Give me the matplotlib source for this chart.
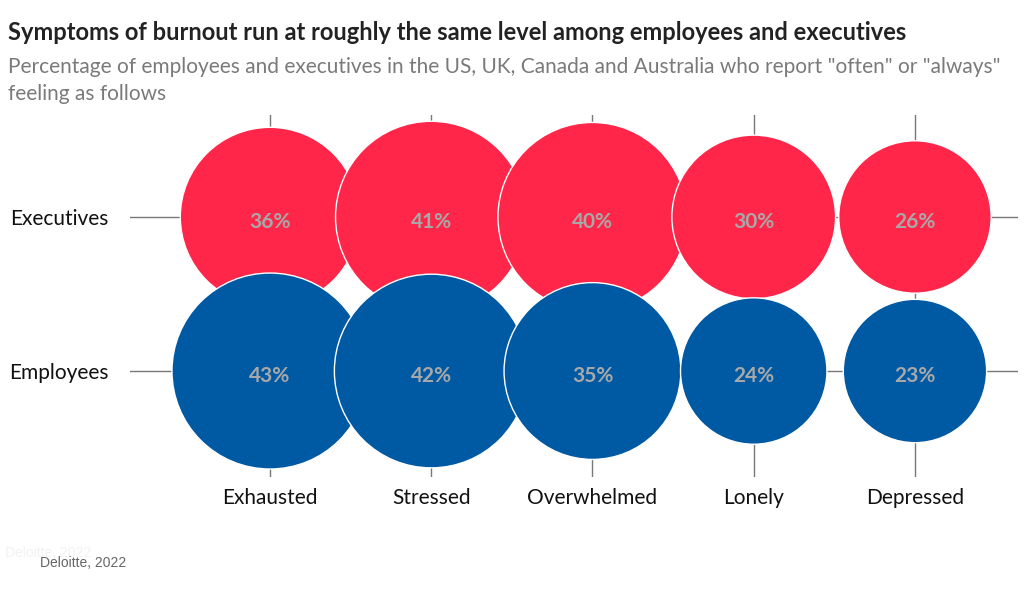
import matplotlib
matplotlib.use("Agg")
import matplotlib.pyplot as plt

# ── data ──────────────────────────────────────────────────────────────────────
symptoms   = ["Exhausted", "Stressed", "Overwhelmed", "Lonely", "Depressed"]
groups     = ["Employees", "Executives"]          # bottom row first
executives = [36, 41, 40, 30, 26]
employees  = [43, 42, 35, 24, 23]

RED   = "#ff2649"
BLUE  = "#0059a3"
LABEL = "#a8a8a8"
GRID  = "#777777"

W, H = 1024, 595
fig = plt.figure(figsize=(W / 100, H / 100), dpi=100)
plt.rcParams["font.family"] = ["Lato", "DejaVu Sans"]

# axes box in pixels: x 130..1018, y 115..477
ax = fig.add_axes([130 / W, (H - 477) / H, 888 / W, 362 / H])
ax.set_xlim(-0.868, 4.639)
ax.set_ylim(-0.688, 1.662)

# bubble area proportional to value
SCALE = 463
xs = list(range(len(symptoms)))
ax.scatter(xs, [1] * len(xs), s=[v * SCALE for v in executives],
           color=RED, edgecolor="white", linewidth=1, zorder=3)
ax.scatter(xs, [0] * len(xs), s=[v * SCALE for v in employees],
           color=BLUE, edgecolor="white", linewidth=1, zorder=4)

for row, vals in ((1, executives), (0, employees)):
    for i, v in enumerate(vals):
        ax.annotate(f"{v}%", (i, row), xytext=(0, -3.5), textcoords="offset points",
                    ha="center", va="center", fontsize=15, fontweight="bold",
                    color=LABEL, zorder=5)

ax.set_xticks(xs, symptoms)
ax.set_yticks([0, 1], groups)
ax.tick_params(axis="x", length=0, pad=8, labelsize=15, labelcolor="#111111")
ax.tick_params(axis="y", length=0, pad=51, labelsize=15, labelcolor="#111111")
for lbl in ax.get_yticklabels():
    lbl.set_ha("center")
ax.set_axisbelow(True)
ax.grid(True, color=GRID, lw=1)
for s in ax.spines.values():
    s.set_visible(False)

# ── titles / source ──────────────────────────────────────────────────────────
fig.text(8 / W, 1 - 33 / H,
         "Symptoms of burnout run at roughly the same level among employees and executives",
         fontsize=17, fontweight="bold", color="#222222", va="center")
fig.text(8 / W, 1 - 57 / H,
         'Percentage of employees and executives in the US, UK, Canada and Australia who report "often" or "always"\nfeeling as follows',
         fontsize=15, color="#7a7a7a", va="top", linespacing=1.45)
fig.text(5 / W, 1 - 553 / H, "Deloitte, 2022", fontsize=10, color="#f2f2f2",
         family="Liberation Sans", va="center")
fig.text(40 / W, 1 - 563 / H, "Deloitte, 2022", fontsize=10, color="#666666",
         family="Liberation Sans", va="center")

fig.savefig("out.png", dpi=100)
